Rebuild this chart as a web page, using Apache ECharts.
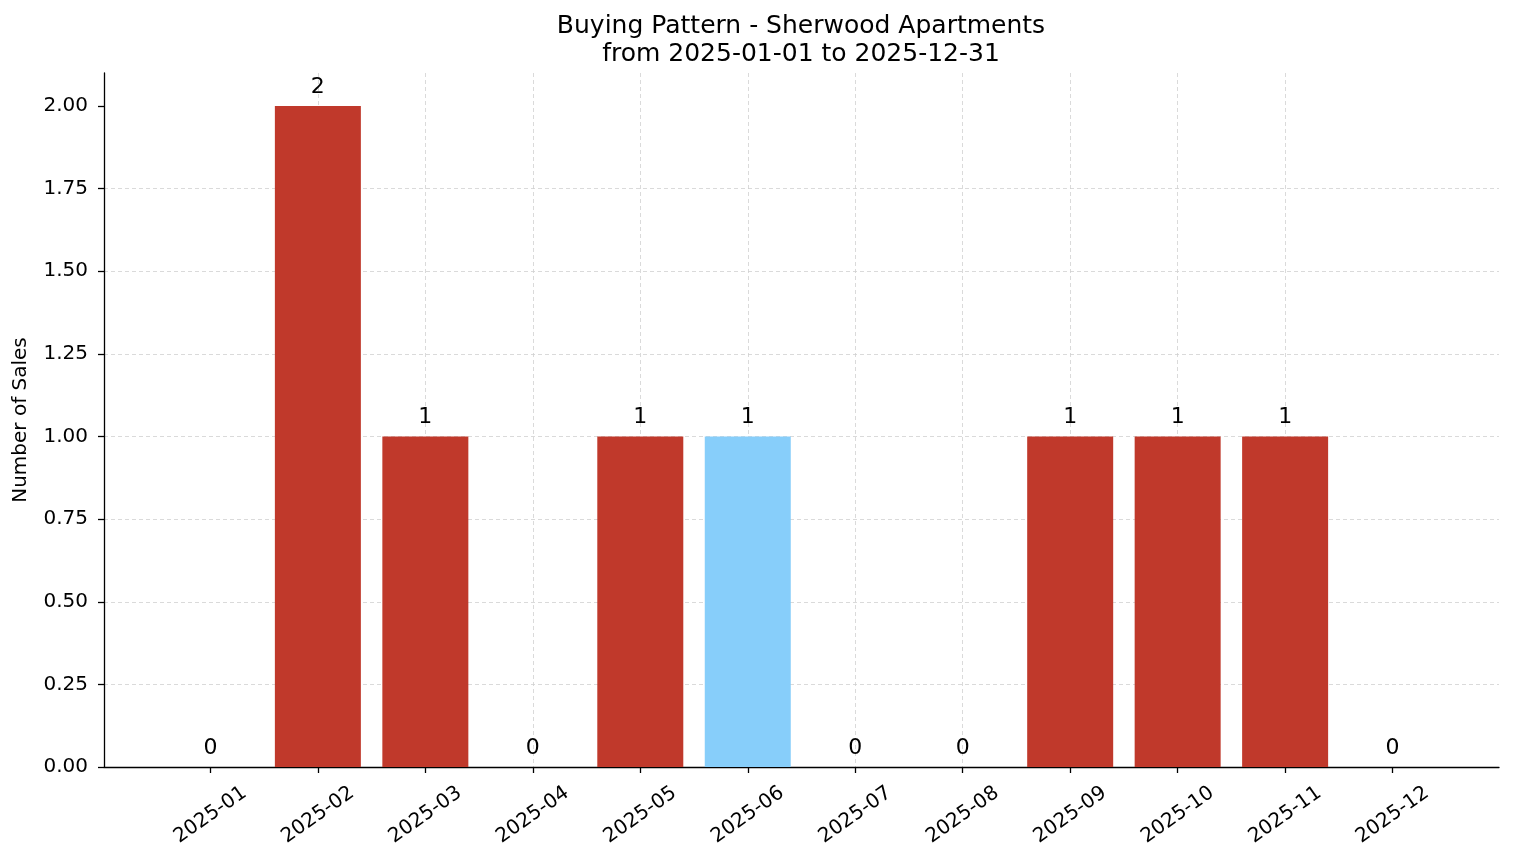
<!DOCTYPE html>
<html>
<head>
<meta charset="utf-8">
<script src="https://cdn.jsdelivr.net/npm/echarts@6/dist/echarts.min.js"></script>
<style>
  html, body { margin: 0; padding: 0; background: #fff; }
  #chart { width: 1514px; height: 863px; }
</style>
</head>
<body>
<div id="chart"></div>
<script>
// data
let months = ['2025-01','2025-02','2025-03','2025-04','2025-05','2025-06',
              '2025-07','2025-08','2025-09','2025-10','2025-11','2025-12'];
let sales = [0, 2, 1, 0, 1, 1, 0, 0, 1, 1, 1, 0];
let highlightMonth = '2025-06';   // bar drawn in light blue
let yTicks = [0, 0.25, 0.5, 0.75, 1, 1.25, 1.5, 1.75, 2];

let red = '#C0392B';
let blue = '#87CEFA';
let font = 'DejaVu Sans';

let chart = echarts.init(document.getElementById('chart'));

chart.setOption({
    animation: false,
    textStyle: { fontFamily: font },
    title: {
        text: 'Buying Pattern - Sherwood Apartments\nfrom 2025-01-01 to 2025-12-31',
        left: 796, top: 7, textAlign: 'center',
        textStyle: { fontFamily: font, fontSize: 25, fontWeight: 'normal', color: '#000', lineHeight: 28 }
    },
    grid: { left: 104, right: 15, top: 73, bottom: 96 },
    xAxis: {
        type: 'value',
        min: -0.99, max: 11.99,   // same margins as the bars need
        axisLine: { show: true, onZero: false, lineStyle: { color: '#000', width: 1.3 } },
        axisTick: {
            show: true, length: 6,
            customValues: months.map((m, i) => i),
            lineStyle: { color: '#000', width: 1.3 }
        },
        axisLabel: {
            customValues: months.map((m, i) => i),
            formatter: v => months[Math.round(v)] || '',
            rotate: 35, align: 'center', verticalAlign: 'middle', margin: 48,
            fontSize: 20, color: '#000', fontFamily: font
        },
        splitLine: {
            show: true, showMinLine: false, showMaxLine: false,
            lineStyle: { color: '#d0d0d0', type: [4, 3], width: 0.8 }
        }
    },
    yAxis: {
        type: 'value',
        min: 0, max: 2.1,
        name: 'Number of Sales', nameLocation: 'middle', nameGap: 73,
        nameTextStyle: { fontSize: 20, color: '#000', fontFamily: font },
        axisLine: { show: true, onZero: false, lineStyle: { color: '#000', width: 1.3 } },
        axisTick: {
            show: true, length: 6,
            customValues: yTicks,
            lineStyle: { color: '#000', width: 1.3 }
        },
        axisLabel: {
            customValues: yTicks,
            formatter: v => v.toFixed(2),
            fontSize: 20, color: '#000', fontFamily: font, margin: 16
        },
        splitLine: {
            show: true, showMinLine: false, showMaxLine: false,
            lineStyle: { color: '#d0d0d0', type: [4, 3], width: 0.8 }
        }
    },
    series: [{
        type: 'bar',
        barWidth: 86,
        data: months.map((m, i) => ({
            value: [i, sales[i]],
            itemStyle: { color: m == highlightMonth ? blue : red }
        })),
        label: {
            show: true, position: 'top', distance: 8,
            formatter: p => String(p.value[1]),
            fontSize: 22, color: '#000', fontFamily: font
        },
        z: 3
    }]
});
</script>
</body>
</html>
